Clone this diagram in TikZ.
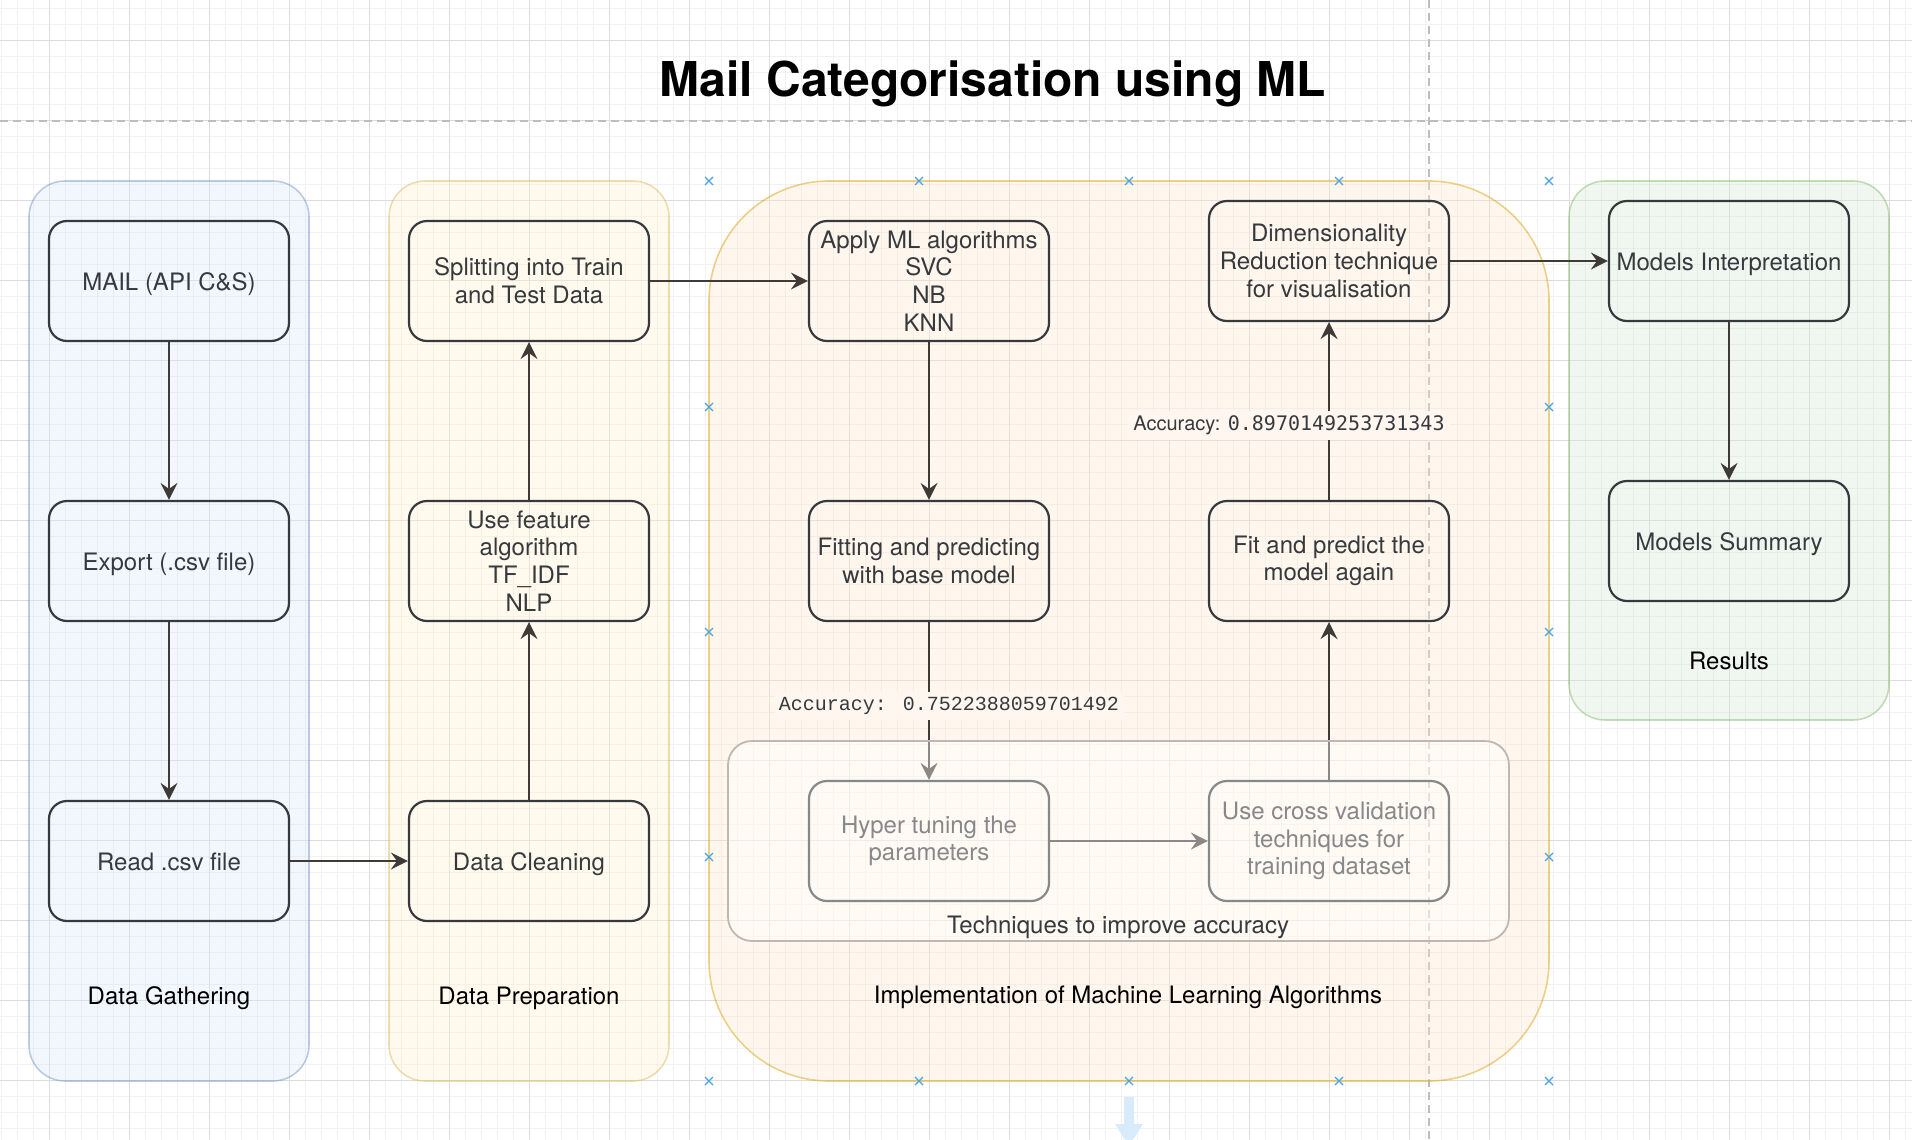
\documentclass[tikz,border=0pt]{standalone}
\usepackage{fontspec}
\setmainfont{TeX Gyre Heros}
\newfontfamily\courmono{Liberation Mono}
\newfontfamily\menlomono{DejaVu Sans Mono}
\usetikzlibrary{arrows.meta}

\definecolor{gridmajor}{HTML}{DCDCDC}
\definecolor{gridminor}{HTML}{F1F1F1}
\definecolor{guideline}{HTML}{BDBDBD}
\definecolor{blueFill}{HTML}{DAE8FC}
\definecolor{blueLine}{HTML}{6C8EBF}
\definecolor{yellowFill}{HTML}{FFF2CC}
\definecolor{yellowLine}{HTML}{D6B656}
\definecolor{orangeFill}{HTML}{FFE6CC}
\definecolor{orangeLine}{HTML}{D79B00}
\definecolor{greenFill}{HTML}{D5E8D4}
\definecolor{greenLine}{HTML}{82B366}
\definecolor{boxline}{HTML}{36393D}
\definecolor{flowline}{HTML}{3E3A37}
\definecolor{accbg}{HTML}{FFF7EF}
\definecolor{groupline}{HTML}{BDB8B4}
\definecolor{handleblue}{HTML}{4BA3E3}
\definecolor{hoverblue}{HTML}{D8EBFA}

\tikzset{
  lanebox/.style={line width=0.8pt, rounded corners=18pt, fill opacity=0.35, draw opacity=0.45},
  procbox/.style={draw=boxline, line width=1.1pt, rounded corners=9pt, minimum width=120pt,
    minimum height=60pt, align=center, text=boxline, inner sep=2pt, font=\fontsize{12}{13.8}\selectfont},
  oneline/.style={text height=9.5pt, text depth=0.5pt},
  flow/.style={draw=flowline, line width=1pt, -{Stealth[length=8.5pt,width=8.5pt,inset=3pt]}},
  lanetitle/.style={anchor=base, text=black, font=\fontsize{12}{14}\selectfont},
  acclabel/.style={fill=accbg, inner sep=2.5pt, text=boxline},
  handle/.style={draw=handleblue, line width=0.6pt}
}

\begin{document}
\begin{tikzpicture}[x=0.5pt,y=0.5pt,yscale=-1]
\useasboundingbox (0,0) rectangle (1912,1140);

%Grid
\foreach \gx in {1,17,...,1912} \draw[gridminor, line width=0.5pt] (\gx,0) -- (\gx,1140);
\foreach \gy in {8,24,...,1140} \draw[gridminor, line width=0.5pt] (0,\gy) -- (1912,\gy);
\foreach \gx in {49,129,...,1912} \draw[gridmajor, line width=0.5pt] (\gx,0) -- (\gx,1140);
\foreach \gy in {40,120,...,1140} \draw[gridmajor, line width=0.5pt] (0,\gy) -- (1912,\gy);

%Dashed guides
\draw[guideline, line width=0.6pt, dash pattern={on 4pt off 2.5pt}] (0,121) -- (1912,121);
\draw[guideline, line width=0.6pt, dash pattern={on 4pt off 2.5pt}] (1429,0) -- (1429,1140);

%Lanes
\draw[lanebox, fill=blueFill, draw=blueLine] (29,181) rectangle (309,1081);
\draw[lanebox, fill=yellowFill, draw=yellowLine] (389,181) rectangle (669,1081);
\draw[lanebox, fill=orangeFill, draw=orangeLine, rounded corners=60pt] (709,181) rectangle (1549,1081);
\draw[lanebox, fill=greenFill, draw=greenLine] (1569,181) rectangle (1889,720);

% Title
\node[anchor=base, font=\fontsize{24}{28}\selectfont\bfseries] (title) at (993,96) {Mail Categorisation using ML};

% Process boxes
\node[procbox, oneline] (mail) at (169,281) {MAIL (API C\&S)};
\node[procbox, oneline] (export) at (169,561) {Export (.csv file)};
\node[procbox, oneline] (readcsv) at (169,861) {Read .csv file};
\node[procbox, oneline] (cleaning) at (529,861) {Data Cleaning};
\node[procbox] (feature) at (529,561) {Use feature\\algorithm\\TF\_IDF\\NLP};
\node[procbox] (split) at (529,281) {Splitting into Train\\and Test Data};
\node[procbox] (apply) at (929,281) {Apply ML algorithms\\SVC\\NB\\KNN};
\node[procbox] (fitbase) at (929,561) {Fitting and predicting\\with base model};
\node[procbox] (hyper) at (929,841) {Hyper tuning the\\parameters};
\node[procbox] (crossval) at (1329,841) {Use cross validation\\techniques for\\training dataset};
\node[procbox] (fitagain) at (1329,561) {Fit and predict the\\model again};
\node[procbox] (dimred) at (1329,261) {Dimensionality\\Reduction technique\\for visualisation};
\node[procbox, oneline] (interp) at (1729,261) {Models Interpretation};
\node[procbox, oneline] (summary) at (1729,541) {Models Summary};

% Connectors
\draw[flow] (mail) -- (export);
\draw[flow] (export) -- (readcsv);
\draw[flow] (readcsv) -- (cleaning);
\draw[flow] (cleaning) -- (feature);
\draw[flow] (feature) -- (split);
\draw[flow] (split) -- (apply);
\draw[flow] (apply) -- (fitbase);
\draw[flow] (fitbase) -- node[acclabel, pos=0.53, xshift=10pt] (accbase) {\courmono\fontsize{10}{12}\selectfont Accuracy: 0.7522388059701492} (hyper);
\draw[flow] (hyper) -- (crossval);
\draw[flow] (crossval) -- (fitagain);
\draw[flow] (fitagain) -- node[acclabel, pos=0.42, xshift=-20pt] (accagain) {\fontsize{10}{12}\selectfont Accuracy: {\menlomono 0.8970149253731343}} (dimred);
\draw[flow] (dimred) -- (interp);
\draw[flow] (interp) -- (summary);

%Group: techniques to improve accuracy
\fill[white, fill opacity=0.4, rounded corners=12pt] (728,741) rectangle (1509,941);
\draw[groupline, line width=0.9pt, rounded corners=12pt] (728,741) rectangle (1509,941);
\node[lanetitle, text=boxline] (techniques) at (1118,933) {Techniques to improve accuracy};

% Lane titles
\node[lanetitle] (gathering) at (169,1004) {Data Gathering};
\node[lanetitle] (preparation) at (529,1004) {Data Preparation};
\node[lanetitle] (implementation) at (1128,1003) {Implementation of Machine Learning Algorithms};
\node[lanetitle] (results) at (1729,669) {Results};

%Selection handles
\foreach \hx in {709,919,1129,1339,1549}
  \foreach \hy in {181,1081}
    \draw[handle] (\hx-4,\hy-4) -- (\hx+4,\hy+4) (\hx-4,\hy+4) -- (\hx+4,\hy-4);
\foreach \hx in {709,1549}
  \foreach \hy in {407,632,857}
    \draw[handle] (\hx-4,\hy-4) -- (\hx+4,\hy+4) (\hx-4,\hy+4) -- (\hx+4,\hy-4);

%Hover arrow
\fill[hoverblue] (1124,1097) -- (1134,1097) -- (1134,1124) -- (1143,1124) -- (1129,1146)
  -- (1115,1124) -- (1124,1124) -- cycle;

\end{tikzpicture}
\end{document}
